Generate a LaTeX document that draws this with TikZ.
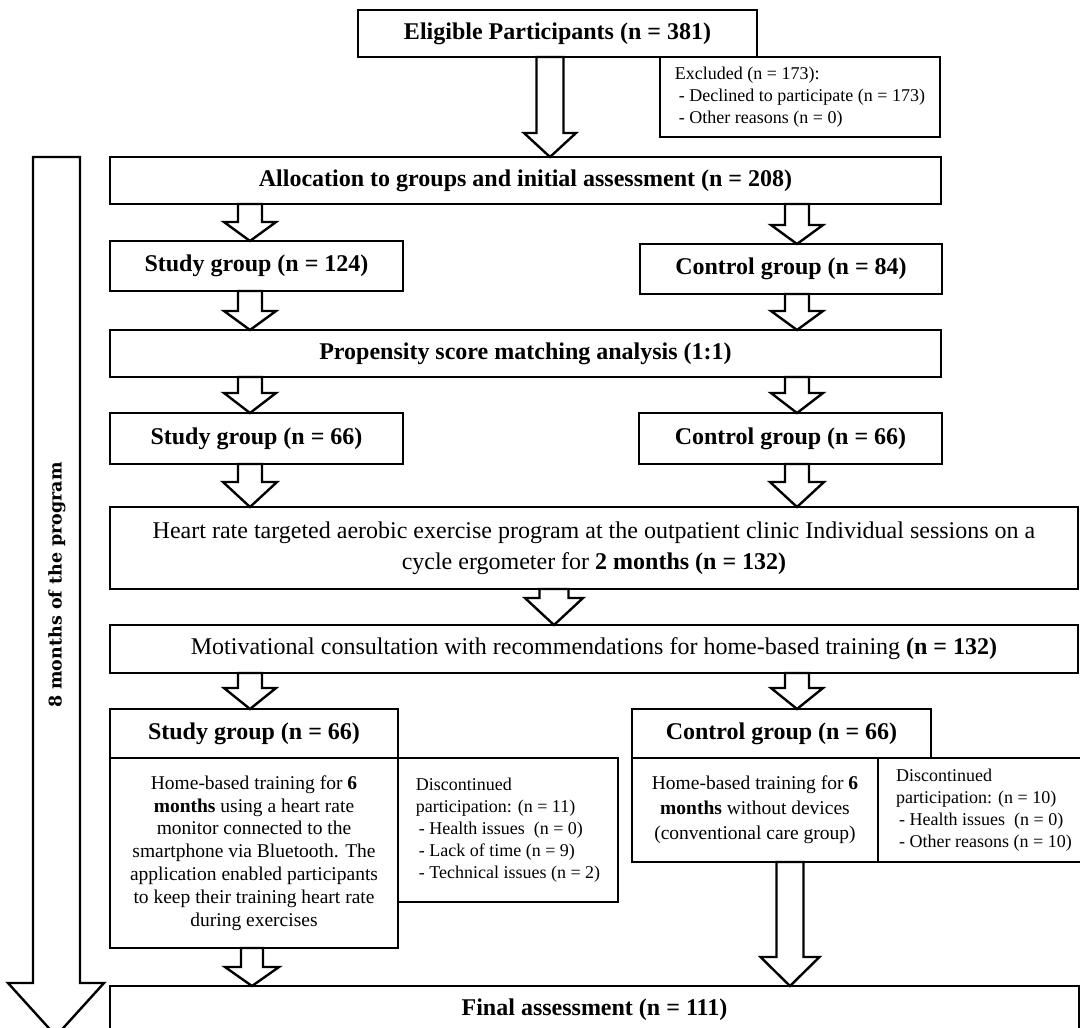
\documentclass[tikz,border=0pt]{standalone}
\usepackage{fontspec}
\setmainfont{Liberation Serif}
\newfontfamily\lblfont{DejaVu Serif}
\usetikzlibrary{calc}
\tikzset{
  box/.style={draw=black, line width=2.4pt, fill=white, inner sep=0pt, outer sep=0pt, align=center},
  big/.style={font=\fontsize{24}{31}\selectfont},
  mid/.style={font=\fontsize{19.5}{22.8}\selectfont},
  small/.style={font=\fontsize{18}{22}\selectfont},
  blockarrow/.style={draw=black, line width=2.4pt, fill=white, line join=miter},
}
% #1 start point, #2 tip point, #3 shaft half width, #4 head half width, #5 head length
\newcommand\barrow[5]{%
  \draw[blockarrow] let \p1=(#1), \p2=(#2) in
    (\x2-#3pt,\y1) -- (\x2-#3pt,\y2+#5pt) -- (\x2-#4pt,\y2+#5pt) -- (\x2,\y2)
    -- (\x2+#4pt,\y2+#5pt) -- (\x2+#3pt,\y2+#5pt) -- (\x2+#3pt,\y1) -- cycle;}
\begin{document}
\begin{tikzpicture}[x=1pt,y=-1pt]
\useasboundingbox (0,0) rectangle (1080,1028);
\clip (0,0) rectangle (1080,1028);

% column positions of the arrows
\coordinate (xE) at (550,0);
\coordinate (xL) at (250,0);
\coordinate (xR) at (797,0);
\coordinate (xH) at (554,0);
\coordinate (xF1) at (252,0);
\coordinate (xF2) at (790,0);

% left time arrow
\draw[blockarrow] (33,157) -- (80,157) -- (80,983) -- (104,983) -- (56,1036) -- (8,983) -- (33,983) -- cycle;
\node[rotate=90, font=\lblfont\bfseries\fontsize{17.5}{20}\selectfont] (lbl) at (57,585) {8 months of the program};

% boxes
\node[box,big,minimum width=399pt,minimum height=47pt] (elig) at (557.5,33.5) {\textbf{Eligible Participants (n = 381)}};
\node[box,small,align=left,minimum width=280pt,minimum height=80pt] (excl) at (800,97) {Excluded (n = 173):\\\hspace*{4pt}- Declined to participate (n = 173)\\\hspace*{4pt}- Other reasons (n = 0)};
\node[box,big,minimum width=831pt,minimum height=47pt] (alloc) at (525.5,180.5) {\textbf{Allocation to groups and initial assessment (n = 208)}};
\node[box,big,minimum width=293pt,minimum height=50pt] (s1) at (256.5,266) {\textbf{Study group (n = 124)}};
\node[box,big,minimum width=302pt,minimum height=50pt] (c1) at (791,269) {\textbf{Control group (n = 84)}};
\node[box,big,minimum width=831pt,minimum height=47pt] (psm) at (525.5,353.5) {\textbf{Propensity score matching analysis (1:1)}};
\node[box,big,minimum width=293pt,minimum height=51pt] (s2) at (256.5,438.5) {\textbf{Study group (n = 66)}};
\node[box,big,minimum width=303pt,minimum height=51pt] (c2) at (790.5,438.5) {\textbf{Control group (n = 66)}};
\node[box,big,minimum width=968pt,minimum height=82pt] (heart) at (594,548) {Heart rate targeted aerobic exercise program at the outpatient clinic Individual sessions on a\\cycle ergometer for \textbf{2 months (n = 132)}};
\node[box,big,minimum width=968pt,minimum height=48pt] (motiv) at (594,649) {Motivational consultation with recommendations for home-based training \textbf{(n = 132)}};
\node[box,big,minimum width=288pt,minimum height=49pt] (s3) at (254,733.5) {\textbf{Study group (n = 66)}};
\node[box,mid,minimum width=288pt,minimum height=190pt] (s3c) at (254,853) {Home-based training for \textbf{6}\\\textbf{months} using a heart rate\\monitor connected to the\\smartphone via Bluetooth. The\\application enabled participants\\to keep their training heart rate\\during exercises};
\node[box,small,align=left,minimum width=220pt,minimum height=144pt] (s3d) at (508,830) {Discontinued\\participation: (n = 11)\\\hspace*{3pt}- Health issues\ \ (n = 0)\\\hspace*{3pt}- Lack of time (n = 9)\\\hspace*{3pt}- Technical issues (n = 2)};
\node[box,big,minimum width=299pt,minimum height=49pt] (c3) at (781.5,733.5) {\textbf{Control group (n = 66)}};
\node[box,mid,font=\fontsize{19.5}{25}\selectfont,minimum width=246pt,minimum height=104pt] (c3c) at (755,810) {Home-based training for \textbf{6}\\\textbf{months} without devices\\(conventional care group)};
\node[box,small,align=left,minimum width=212pt,minimum height=104pt] (c3d) at (984,810) {Discontinued\\participation: (n = 10)\\\hspace*{3pt}- Health issues\ \ (n = 0)\\\hspace*{3pt}- Other reasons (n = 10)};
\node[box,big,minimum width=969pt,minimum height=48pt] (final) at (594.5,1010) {\textbf{Final assessment (n = 111)}};

% block arrows
\barrow{elig.south -| xE}{alloc.north -| xE}{13.5}{26}{24}
\barrow{alloc.south -| xL}{s1.north -| xL}{12}{26}{19}
\barrow{alloc.south -| xR}{c1.north -| xR}{12}{26}{19}
\barrow{s1.south -| xL}{psm.north -| xL}{12}{26}{19}
\barrow{c1.south -| xR}{psm.north -| xR}{12}{26}{19}
\barrow{psm.south -| xL}{s2.north -| xL}{12}{26}{20}
\barrow{psm.south -| xR}{c2.north -| xR}{12}{26}{20}
\barrow{s2.south -| xL}{heart.north -| xL}{12}{27}{25}
\barrow{c2.south -| xR}{heart.north -| xR}{12}{27}{25}
\barrow{heart.south -| xH}{motiv.north -| xH}{14.5}{29}{27}
\barrow{motiv.south -| xL}{s3.north -| xL}{12}{26}{21}
\barrow{motiv.south -| xR}{c3.north -| xR}{12}{26}{21}
\barrow{s3c.south -| xF1}{final.north -| xF1}{11}{27}{19}
\barrow{c3c.south -| xF2}{final.north -| xF2}{13.5}{29.5}{29}
\end{tikzpicture}
\end{document}
